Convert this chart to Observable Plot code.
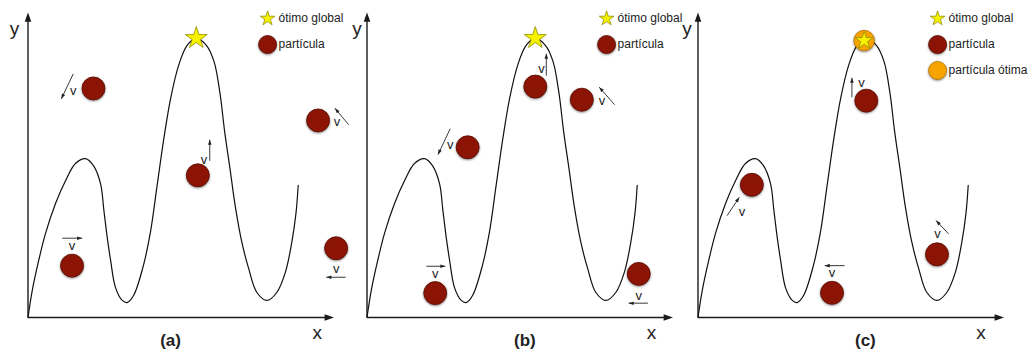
<!DOCTYPE html>
<html><head><meta charset="utf-8">
<script src="https://cdn.jsdelivr.net/npm/d3@7"></script>
<script src="https://cdn.jsdelivr.net/npm/@observablehq/plot@0.6"></script>
<style>
html,body{margin:0;padding:0;background:#fff;overflow:hidden}
#chart{position:relative;width:1030px;height:352px}
#chart svg{position:absolute;top:0;overflow:visible;max-width:none}
#chart svg circle{filter:drop-shadow(0.6px 1.6px 1.2px rgba(0,0,0,0.45))}
</style></head><body><div id="chart"></div>
<script>
// Fitness curve (shared by the three panels), in axis units
const curveU = [0,0.14,0.35,0.57,0.90,1.23,1.55,1.88,2.14,2.37,2.48,2.59,2.70,2.86,3.08,3.24,3.45,3.77,4.00,4.22,4.44,4.66,4.92,5.20,5.50,5.83,6.08,6.27,6.43,6.60,6.77,6.99,7.21,7.48,7.81,8.13,8.41,8.62,8.76,8.83];
const curveV = [0,0.89,1.87,2.75,3.74,4.49,5.05,5.21,4.98,4.39,3.51,2.62,1.87,0.98,0.56,0.49,0.72,1.70,2.79,4.33,5.87,7.18,8.26,8.92,9.15,8.92,8.39,7.38,6.07,4.89,3.67,2.46,1.61,0.82,0.56,0.82,1.48,2.46,3.44,4.33];

// Global optimum
const optimum = {u: 5.50, v: 9.16};

// Particles per panel
const particlesA = [{u:2.14,v:7.51},{u:9.48,v:6.46},{u:5.55,v:4.66},{u:1.44,v:1.70},{u:10.07,v:2.27}];
const particlesB = [{u:5.50,v:7.57},{u:7.02,v:7.14},{u:3.29,v:5.58},{u:2.23,v:0.80},{u:8.88,v:1.43}];
const particlesC = [{u:5.50,v:7.11},{u:1.76,v:4.35},{u:4.38,v:0.81},{u:7.81,v:2.07}];
const bestC = [{u:5.43,v:9.08}];

// Velocity arrows (tail -> head) per panel
const velA = [{u1:1.48,v1:7.99,u2:1.09,v2:7.17},{u1:10.48,v1:6.32,u2:10.03,v2:6.86},{u1:10.38,v1:1.32,u2:9.75,v2:1.32},{u1:5.94,v1:5.14,u2:5.94,v2:5.83},{u1:1.12,v1:2.60,u2:1.77,v2:2.60}];
const velB = [{u1:5.86,v1:7.93,u2:5.86,v2:8.65},{u1:8.09,v1:6.98,u2:7.59,v2:7.55},{u1:2.72,v1:6.19,u2:2.32,v2:5.34},{u1:1.94,v1:1.68,u2:2.56,v2:1.68},{u1:9.18,v1:0.47,u2:8.55,v2:0.47}];
const velC = [{u1:5.03,v1:7.22,u2:5.03,v2:7.86},{u1:0.95,v1:3.34,u2:1.35,v2:3.94},{u1:4.79,v1:1.70,u2:4.14,v2:1.70},{u1:8.19,v1:2.74,u2:7.78,v2:3.18}];

// "v" label anchors per panel
const vLabA = [{u:1.48,v:7.42},{u:10.10,v:6.40},{u:10.07,v:1.60},{u:5.75,v:5.18},{u:1.44,v:2.34}];
const vLabB = [{u:5.70,v:8.15},{u:7.68,v:7.11},{u:2.72,v:5.67},{u:2.23,v:1.43},{u:8.88,v:0.72}];
const vLabC = [{u:5.34,v:7.71},{u:1.44,v:3.45},{u:4.38,v:1.45},{u:7.83,v:2.74}];

const legendAB = ["ótimo global","partícula"];
const legendC = ["ótimo global","partícula","partícula ótima"];
const captions = ["(a)","(b)","(c)"];

const curve = curveU.map((u,i)=>({u, v: curveV[i]}));

const PXU = 30.6, PXV = 30.5;
const FONT = "Liberation Sans, Arial, Helvetica, sans-serif";
const RED = "#8c1404", RED_S = "#5a0b00", ORANGE = "#f8a400", ORANGE_S = "#b77500";
const YELLOW = "#f7f200", YELLOW_S = "#938d00";

const headSymbol = {draw(ctx, size){const r=Math.sqrt(size/Math.PI);const L=2.4*r,w=0.85*r;ctx.moveTo(0,0);ctx.lineTo(w,L);ctx.lineTo(-w,L);ctx.closePath();}};
const angle = d => Math.atan2((d.u2-d.u1)*PXU, (d.v2-d.v1)*PXV)*180/Math.PI;

const panels = [
  {left:-0.2, particles:particlesA, vel:velA, vlab:vLabA, legend:legendAB, best:null, yLab:-0.44, xLab:9.45, cap:4.66},
  {left:339.2, particles:particlesB, vel:velB, vlab:vLabB, legend:legendAB, best:null, yLab:-0.33, xLab:9.30, cap:5.16},
  {left:670.2, particles:particlesC, vel:velC, vlab:vLabC, legend:legendC, best:bestC, yLab:-0.36, xLab:9.25, cap:5.47}
];

const chart = document.getElementById("chart");
panels.forEach((p, k) => {
  const legendItems = p.legend.map((label,i)=>({label, u:7.83, v:9.80 - i*0.85, tu:8.19, kind:i}));
  const marks = [
    // axes
    Plot.link([{u1:0,v1:0,u2:0,v2:9.85},{u1:0,v1:0,u2:9.85,v2:0}], {x1:"u1",y1:"v1",x2:"u2",y2:"v2",stroke:"#1a1a1a",strokeWidth:1.4}),
    Plot.dot([{u:0,v:10,r:0},{u:10,v:0,r:90}], {x:"u",y:"v",rotate:"r",symbol:headSymbol,r:3.9,fill:"#1a1a1a",stroke:"none"}),
    // curve
    Plot.line(curve, {x:"u",y:"v",curve:"catmull-rom",stroke:"#111",strokeWidth:1.2}),
    // velocity arrows
    Plot.link(p.vel, {x1:"u1",y1:"v1",x2:"u2",y2:"v2",stroke:"#222",strokeWidth:0.9}),
    Plot.dot(p.vel, {x:"u2",y:"v2",rotate:angle,symbol:headSymbol,r:2.1,fill:"#222",stroke:"none"}),
    Plot.text(p.vlab, {x:"u",y:"v",text:()=>"v",fontSize:13,fill:"#222",fontFamily:FONT}),
    // particles
    Plot.dot(p.particles, {x:"u",y:"v",r:11.5,fill:RED,stroke:RED_S,strokeWidth:0.8}),
  ];
  if (p.best) {
    marks.push(Plot.dot(p.best, {x:"u",y:"v",r:10.3,fill:ORANGE,stroke:ORANGE_S,strokeWidth:0.8}));
    marks.push(Plot.dot(p.best, {x:"u",y:"v",r:5.6,symbol:"star",fill:YELLOW,stroke:YELLOW_S,strokeWidth:0.8}));
  } else {
    marks.push(Plot.dot([optimum], {x:"u",y:"v",r:6.9,symbol:"star",fill:YELLOW,stroke:YELLOW_S,strokeWidth:0.8}));
  }
  // legend
  marks.push(Plot.dot(legendItems.filter(d=>d.kind===0), {x:"u",y:"v",r:4.6,symbol:"star",fill:YELLOW,stroke:YELLOW_S,strokeWidth:0.8}));
  marks.push(Plot.dot(legendItems.filter(d=>d.kind===1), {x:"u",y:"v",r:9,fill:RED,stroke:RED_S,strokeWidth:0.8}));
  marks.push(Plot.dot(legendItems.filter(d=>d.kind===2), {x:"u",y:"v",r:9,fill:ORANGE,stroke:ORANGE_S,strokeWidth:0.8}));
  marks.push(Plot.text(legendItems, {x:"tu",y:"v",text:"label",textAnchor:"start",fontSize:12,fill:"#222",fontFamily:FONT}));
  // axis names and caption
  marks.push(Plot.text([{u:p.yLab,v:9.45,t:"y"},{u:p.xLab,v:-0.49,t:"x"}], {x:"u",y:"v",text:"t",fontSize:19,fill:"#222",fontFamily:FONT}));
  marks.push(Plot.text([{u:p.cap,v:-0.75,t:captions[k]}], {x:"u",y:"v",text:"t",fontSize:17,fontWeight:"bold",fill:"#222",fontFamily:FONT}));

  const svg = Plot.plot({
    width: 360, height: 352, margin: 0,
    x: {domain:[0,10], range:[27.5, 27.5 + 10*PXU], axis:null},
    y: {domain:[0,10], range:[317, 317 - 10*PXV], axis:null},
    style: {background:"transparent", overflow:"visible", fontFamily:FONT},
    marks
  });
  svg.style.left = p.left + "px";
  chart.appendChild(svg);
});
</script></body></html>
